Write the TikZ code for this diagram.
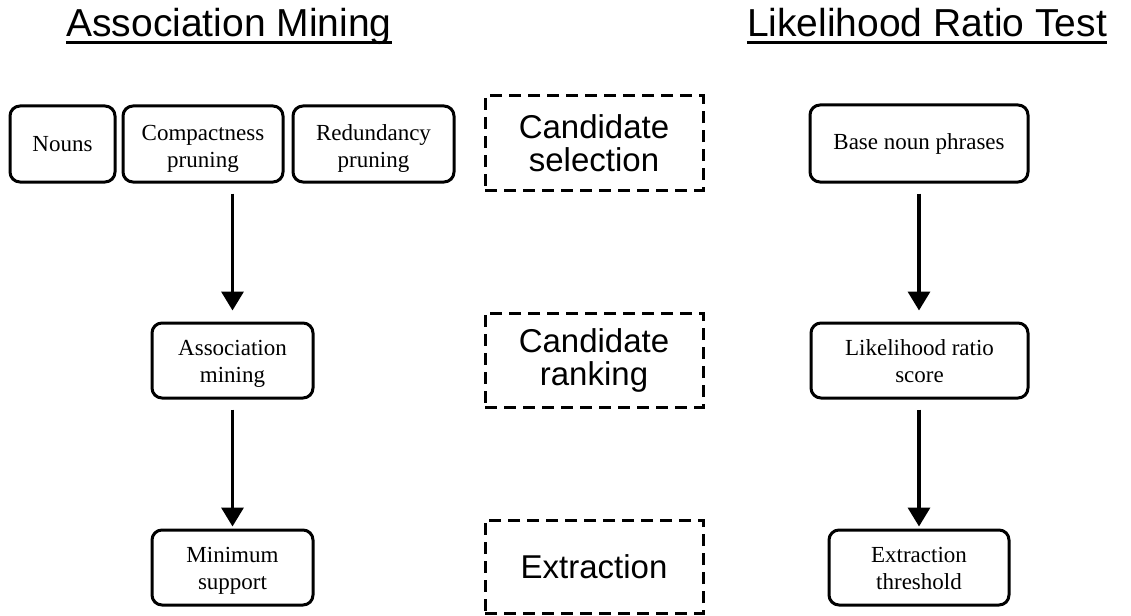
\documentclass[tikz,border=0pt]{standalone}
\usepackage{fontspec}
\setmainfont{Liberation Serif}
\newfontfamily\arialish{Liberation Sans}
\usetikzlibrary{arrows.meta,calc}
\begin{document}
\begin{tikzpicture}[x=1pt,y=-1pt,
  stepbox/.style={draw,line width=3pt,rounded corners=10pt,align=center,
    font=\fontsize{23}{27}\selectfont,inner sep=0pt,minimum height=75pt},
  twoline/.style={text height=44pt,text depth=0pt},
  twolinetop/.style={text height=47pt,text depth=0pt},
  phasebox/.style={draw,dashed,dash pattern=on 12pt off 7pt,line width=3pt,
    align=center,font=\arialish\fontsize{33}{33}\selectfont,inner sep=0pt,
    minimum width=218pt,minimum height=94pt},
  heading/.style={font=\arialish\fontsize{39}{40}\selectfont,inner sep=0pt,anchor=base},
  flow/.style={line width=3.5pt,-{Triangle[length=19pt,width=22pt]}},
  rule/.style={line width=3pt}
]
\useasboundingbox (0,0) rectangle (1131,615);

% column headings
\node[heading] (amtitle) at (229,37) {Association Mining};
\node[heading] (lrtitle) at (927,37) {Likelihood Ratio Test};
\draw[rule] ($(amtitle.base west)+(0,6)$) -- ($(amtitle.base east)+(0,6)$);
\draw[rule] ($(lrtitle.base west)+(0,6)$) -- ($(lrtitle.base east)+(0,6)$);

% association mining column
\node[stepbox,minimum width=105pt,minimum height=76pt] (nouns) at (62.5,144) {Nouns};
\node[stepbox,twolinetop,minimum width=160pt,minimum height=76pt] (compact) at (203,144) {Compactness\\pruning};
\node[stepbox,twolinetop,minimum width=161pt,minimum height=76pt] (redund) at (373.5,144) {Redundancy\\pruning};
\node[stepbox,twoline,minimum width=161pt] (assoc) at (232.5,360.5) {Association\\mining};
\node[stepbox,twoline,minimum width=161pt] (minsup) at (232.5,567.5) {Minimum\\support};

% phases
\node[phasebox] (sel) at (594,143) {Candidate\\selection};
\node[phasebox] (rank) at (594,360) {Candidate\\ranking};
\node[phasebox,minimum height=93pt] (extr) at (594,566.5) {Extraction};

% likelihood ratio test column
\node[stepbox,minimum width=218pt,minimum height=77pt] (base) at (919,143.5) {Base noun phrases};
\node[stepbox,twoline,minimum width=217pt] (lrs) at (919.5,360.5) {Likelihood ratio\\score};
\node[stepbox,twoline,minimum width=180pt] (ext) at (919,567.5) {Extraction\\threshold};

% arrows
\coordinate (amtop) at (assoc.north |- compact.south);
\draw[flow,shorten <=10pt,shorten >=11pt] (amtop) -- (assoc.north);
\draw[flow,shorten <=10pt,shorten >=2pt] (assoc.south) -- (minsup.north);
\draw[flow,shorten <=10pt,shorten >=11pt] (base.south) -- (base.south |- lrs.north);
\draw[flow,shorten <=10pt,shorten >=2pt] (base.south |- lrs.south) -- (base.south |- ext.north);
\end{tikzpicture}
\end{document}
